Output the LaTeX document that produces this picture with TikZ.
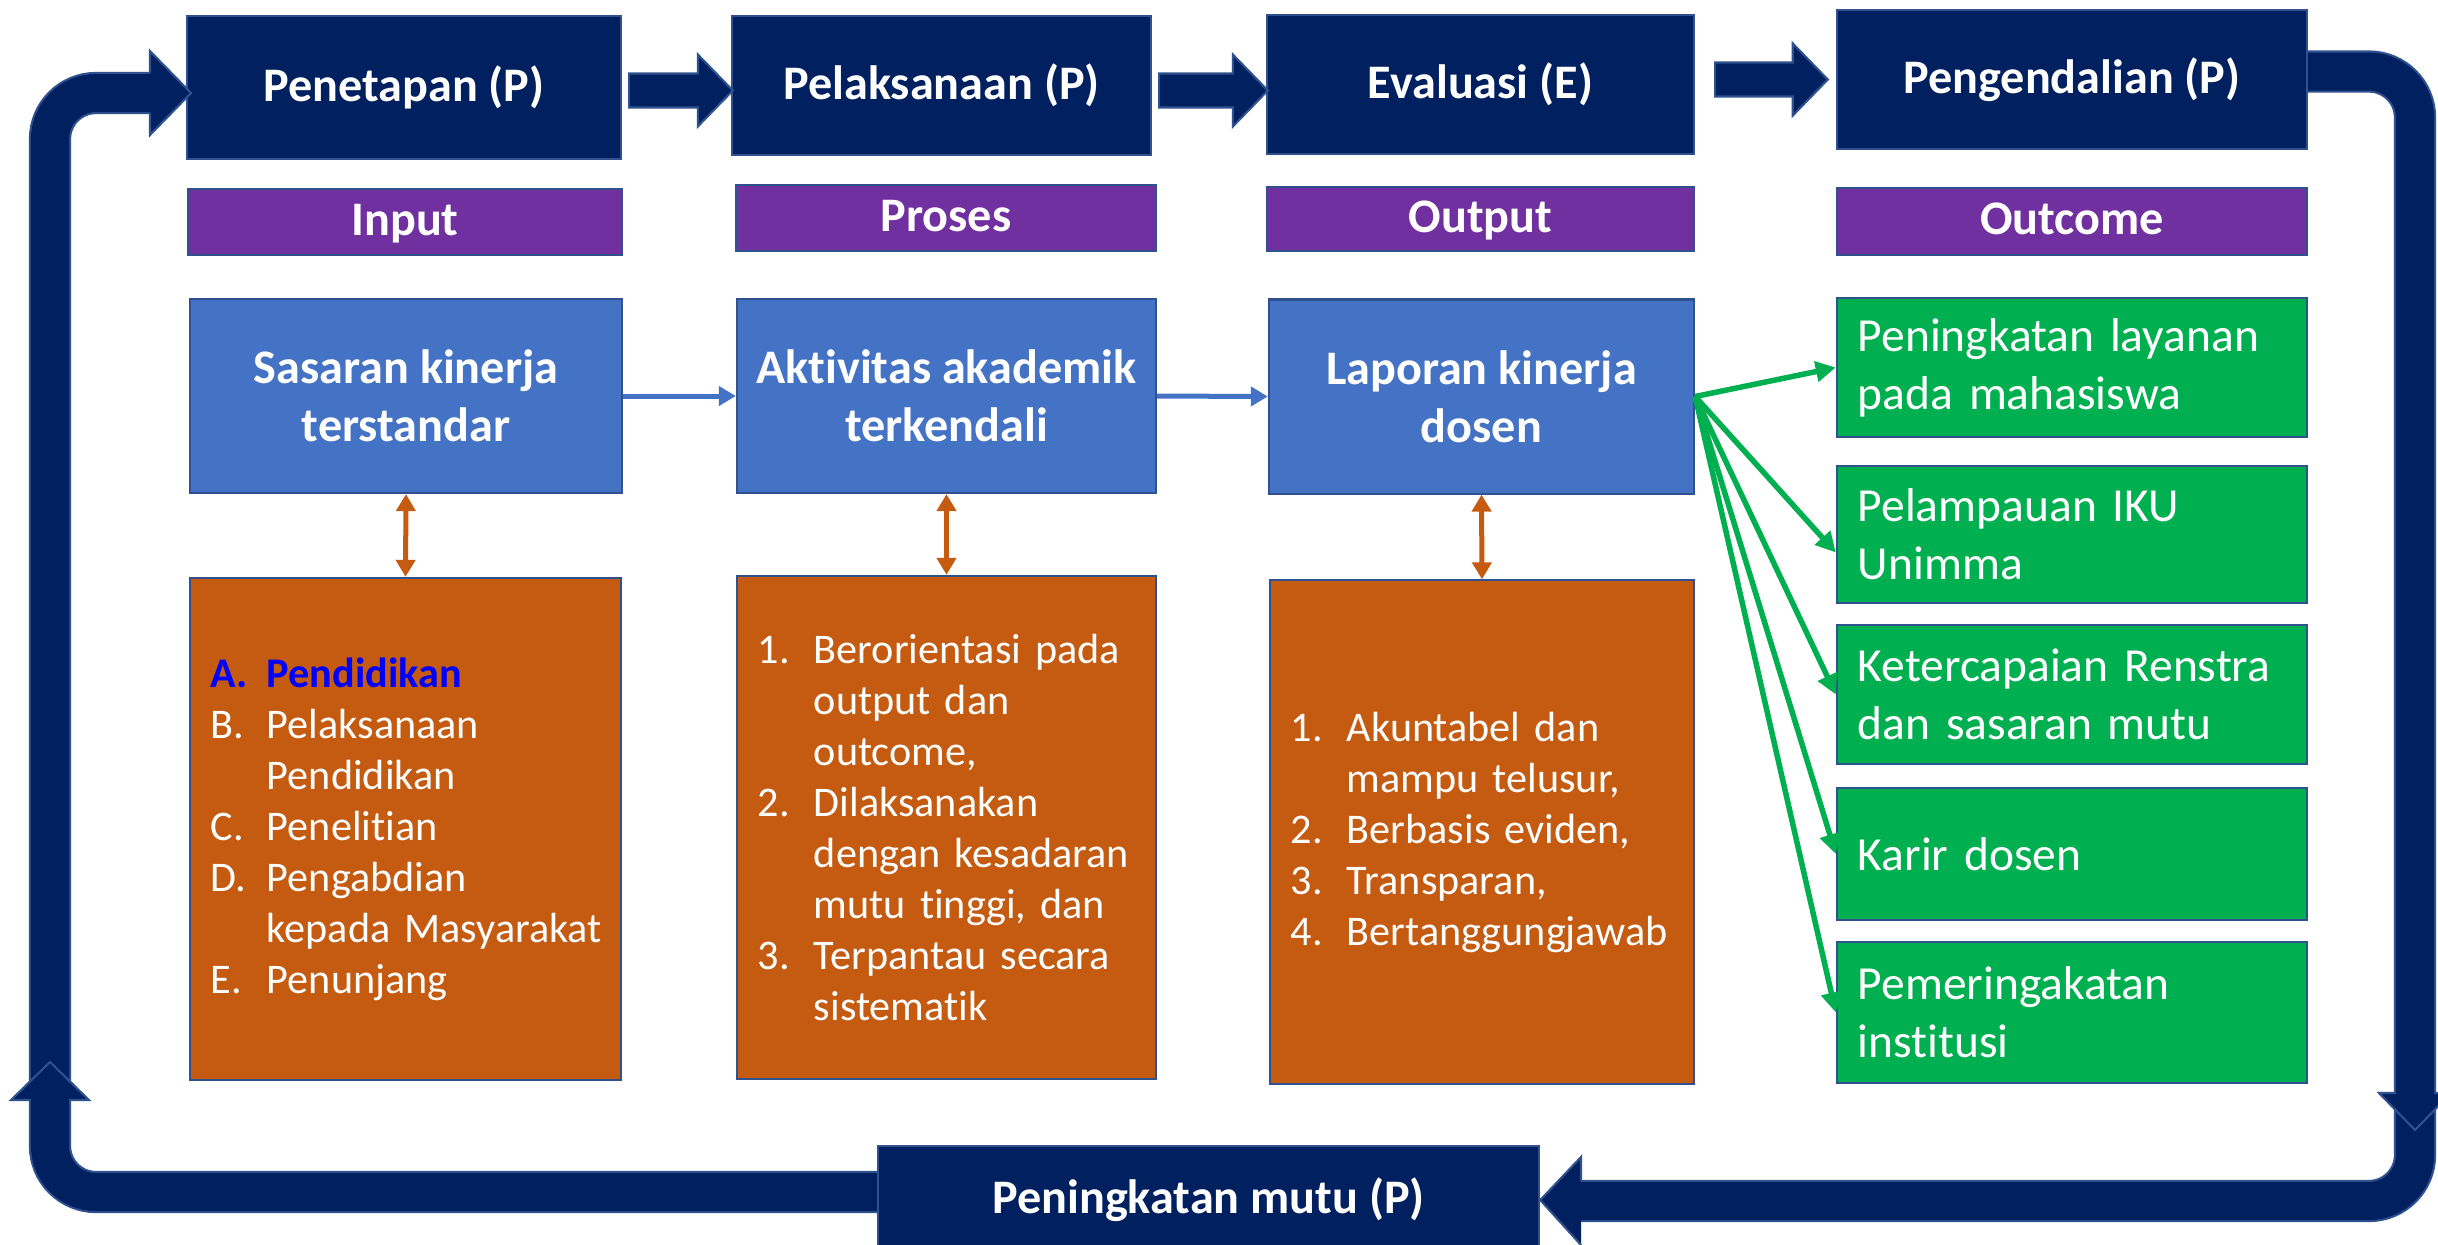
\documentclass[tikz,border=0pt]{standalone}
\usepackage{fontspec}
\setmainfont{Carlito}[Ligatures=NoCommon]
\usepackage{tikz}
\usetikzlibrary{calc,arrows.meta}
\tikzset{>=Triangle}
\definecolor{navy}{HTML}{002060}
\definecolor{ungu}{HTML}{7030A0}
\definecolor{biru}{HTML}{4472C4}
\definecolor{oranye}{HTML}{C55A11}
\definecolor{hijau}{HTML}{00B050}
\definecolor{garis}{HTML}{2F528F}
\definecolor{birutua}{HTML}{0000FF}
\newcommand*{\judul}{\fontsize{13.7}{16.5}\selectfont\bfseries}
\newcommand*{\isi}{\fontsize{12}{14.5}\selectfont}
\newcommand*{\hasil}{\fontsize{13.5}{16.4}\selectfont}
\newcommand*{\li}[2]{\makebox[0.56cm][l]{#1}\mbox{#2}}
\newcommand*{\blockarr}[2]{%
  \filldraw[fill=navy,draw=garis,line width=0.6pt]
    let \p1=#1, \p2=#2 in
    (\x1,\y2+0.17cm) -- (\x2-0.35cm,\y2+0.17cm) -- (\x2-0.35cm,\y2+0.36cm)
    -- (\x2,\y2) -- (\x2-0.35cm,\y2-0.36cm) -- (\x2-0.35cm,\y2-0.17cm)
    -- (\x1,\y2-0.17cm) -- cycle;}

\begin{document}
\begin{tikzpicture}[x=0.01cm,y=-0.01cm,
  kotak/.style={draw=garis,line width=0.6pt,inner sep=0pt,text=white,align=center},
  tahap/.style={kotak,fill=navy,font=\judul,minimum height=1.39cm},
  kategori/.style={kotak,fill=ungu,font=\judul,minimum height=0.66cm,text depth=0.05cm},
  sasar/.style={kotak,fill=biru,font=\judul,minimum height=1.94cm},
  daftar/.style={kotak,fill=oranye,font=\isi,align=left,inner xsep=0.21cm,minimum height=5.03cm},
  dampak/.style={kotak,fill=hijau,font=\hasil,align=left,inner xsep=0.21cm,text width=4.28cm},
  pita/.style={draw=garis,line width=0.6pt,double=navy,double distance=0.38cm,rounded corners=0.46cm},
  kepala/.style={draw=garis,line width=0.6pt},
  panahbiru/.style={biru,line width=0.05cm,-{Triangle[length=0.17cm,width=0.19cm]}},
  panahoranye/.style={oranye,line width=0.05cm,{Triangle[length=0.17cm,width=0.19cm]}-{Triangle[length=0.17cm,width=0.19cm]}},
  panahhijau/.style={hijau,line width=0.055cm,-{Triangle[length=0.2cm,width=0.2cm]}}]
\useasboundingbox (0,0) rectangle (2438,1244);
\clip (0,0) rectangle (2438,1244);
\fill[white] (0,0) rectangle (2438,1244);

\node[tahap,minimum width=4.34cm,minimum height=1.43cm] (pen) at (404,87.5) {Penetapan (P)};
\node[tahap,minimum width=4.19cm] (pel) at (941.5,85.5) {Pelaksanaan (P)};
\node[tahap,minimum width=4.27cm] (eva) at (1480.5,84.5) {Evaluasi (E)};
\node[tahap,minimum width=4.70cm] (ped) at (2072,79.5) {Pengendalian (P)};

\node[kategori,minimum width=4.34cm] (inp) at (405,222) {Input};
\node[kategori,minimum width=4.20cm] (pro) at (946,218) {Proses};
\node[kategori,minimum width=4.27cm,minimum height=0.64cm] (out) at (1480.5,219) {Output};
\node[kategori,minimum width=4.70cm,minimum height=0.67cm] (ouc) at (2072,221.5) {Outcome};

\node[sasar,minimum width=4.32cm] (sas) at (406,396) {Sasaran kinerja\\terstandar};
\node[sasar,minimum width=4.19cm] (akt) at (946.5,396) {Aktivitas akademik\\terkendali};
\node[sasar,minimum width=4.25cm] (lap) at (1481.5,396.5) {Laporan kinerja\\dosen};

\node[daftar,text width=3.89cm,minimum height=5.02cm] (or1) at (405.5,829) {%
{\color{birutua}\bfseries\li{A.}{Pendidikan}}\\
\li{B.}{Pelaksanaan}\\
\li{}{Pendidikan}\\
\li{C.}{Penelitian}\\
\li{D.}{Pengabdian}\\
\li{}{kepada Masyarakat}\\
\li{E.}{Penunjang}};
\node[daftar,text width=3.77cm] (or2) at (946.5,827.5) {%
\li{1.}{Berorientasi pada}\\
\li{}{output dan}\\
\li{}{outcome,}\\
\li{2.}{Dilaksanakan}\\
\li{}{dengan kesadaran}\\
\li{}{mutu tinggi, dan}\\
\li{3.}{Terpantau secara}\\
\li{}{sistematik}};
\node[daftar,text width=3.82cm] (or3) at (1482,832) {%
\li{1.}{Akuntabel dan}\\
\li{}{mampu telusur,}\\
\li{2.}{Berbasis eviden,}\\
\li{3.}{Transparan,}\\
\li{4.}{Bertanggungjawab}};

\node[dampak,minimum height=1.39cm] (g1) at (2072,367.5) {\mbox{Peningkatan layanan}\\pada mahasiswa};
\node[dampak,minimum height=1.37cm] (g2) at (2072,534.5) {Pelampauan IKU\\Unimma};
\node[dampak,minimum height=1.39cm] (g3) at (2072,694.5) {\mbox{Ketercapaian Renstra}\\\mbox{dan sasaran mutu}};
\node[dampak,minimum height=1.32cm] (g4) at (2072,854) {Karir dosen};
\node[dampak,minimum height=1.41cm] (g5) at (2072,1012.5) {Pemeringakatan\\institusi};

\node[tahap,minimum width=6.61cm,minimum height=1.08cm] (pmu) at (1208.5,1200) {Peningkatan mutu (P)};

\blockarr{($(pen.east)+(7,0)$)}{($(pel.west)+(2,5)$)}
\blockarr{($(pel.east)+(7,0)$)}{($(eva.west)+(2,6)$)}
\blockarr{($(eva.east)+(20,0)$)}{($(ped.west)+(-8,0)$)}

\draw[pita] ($(pmu.west)+(0,-8)$) -| (50,93) -- (150,93);
\draw[pita] ($(ped.east)+(0,-8)$) -- (2415,71.5) |- (1581,1201);

\fill[navy] (150,51) -- (191,93) -- (150,135) -- cycle;
\draw[kepala] (150,73) -- (150,51) -- (191,93) -- (150,135) -- (150,113);
\fill[navy] (11,1100) -- (50,1062) -- (89,1100) -- cycle;
\draw[kepala] (31,1100) -- (11,1100) -- (50,1062) -- (89,1100) -- (69,1100);
\fill[navy] (2379,1093) -- (2415,1130) -- (2451,1093) -- cycle;
\draw[kepala] (2396,1093) -- (2379,1093) -- (2415,1130) -- (2451,1093) -- (2434,1093);
\fill[navy] (1581,1157) -- (pmu.east) -- (1581,1245) -- cycle;
\draw[kepala] (1581,1181) -- (1581,1157) -- (pmu.east) -- (1581,1245);

\draw[panahbiru] (sas.east) -- (akt.west);
\draw[panahbiru] (akt.east) -- (lap.west);
\draw[panahoranye] (sas.south) -- (or1.north);
\draw[panahoranye] (akt.south) -- (or2.north);
\draw[panahoranye] (lap.south) -- (or3.north);
\foreach \g/\dy in {g1/0,g2/18,g3/0,g4/0,g5/0}
  \draw[panahhijau] (lap.east) -- ($(\g.west)+(0,\dy)$);
\end{tikzpicture}
\end{document}
